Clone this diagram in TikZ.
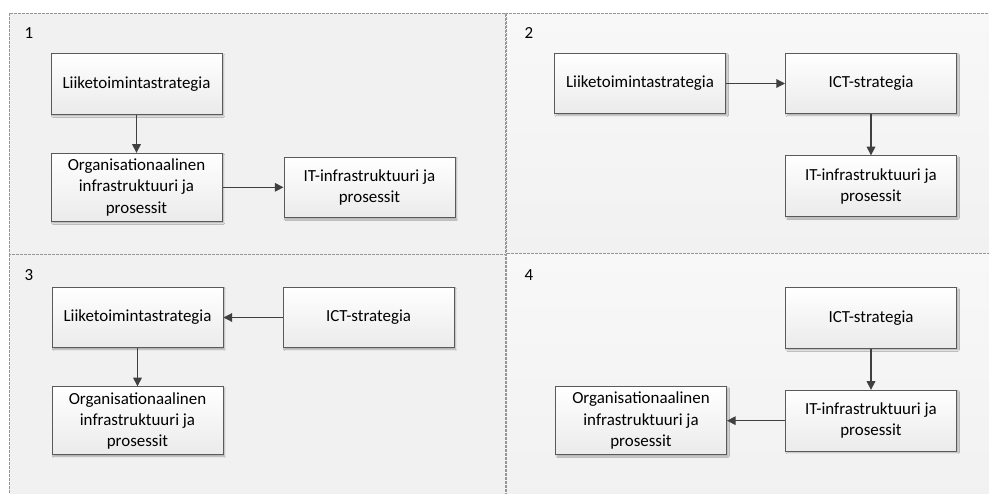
\documentclass[tikz,border=0pt]{standalone}
\usepackage{fontspec}
\setmainfont{Carlito}
\usetikzlibrary{arrows.meta, positioning, shadows.blur}
\definecolor{vsLine}{RGB}{90,90,90}
\definecolor{vsArrow}{RGB}{64,64,64}
\definecolor{vsPanel}{RGB}{241,241,241}
\definecolor{vsPanelTop}{RGB}{248,248,248}
\definecolor{vsFrame}{RGB}{150,150,150}

\begin{document}
\begin{tikzpicture}[x=0.75pt,y=-0.75pt,
  P/.style={draw=vsFrame,dash pattern=on 2.2pt off 0.8pt,line width=0.7pt},
  B/.style={draw=vsLine,line width=0.75pt,top color=white,bottom color=black!8,
            minimum width=128.25pt,minimum height=45.5pt,align=center,
            inner sep=2pt,font=\fontsize{12.7}{15.9}\selectfont,
            blur shadow={shadow xshift=1.2pt,shadow yshift=-1.2pt,
                         shadow blur radius=1pt,shadow blur steps=4,
                         shadow opacity=30}},
  O/.style={B,minimum height=51pt},
  A/.style={draw=vsArrow,line width=0.9pt,-{Triangle[length=6.5pt,width=6.5pt]}},
  N/.style={font=\fontsize{12.7}{15.9}\selectfont,inner sep=0pt}]

\useasboundingbox (0,0) rectangle (989,493);

% panels
\path[P,top color=vsPanel,bottom color=vsPanel] (9,13) rectangle (505,255);
\path[P,top color=vsPanelTop,bottom color=vsPanel] (506,13) rectangle (1000,254);
\path[P,top color=vsPanel,bottom color=vsPanel] (9,254) rectangle (505,505);
\path[P,top color=vsPanelTop,bottom color=vsPanel] (506,253) rectangle (1000,505);

\node[N] (n1) at (29,33) {1};
\node[N] (n2) at (529,33) {2};
\node[N] (n3) at (29,275) {3};
\node[N] (n4) at (529,275) {4};

% panel 1
\node[B] (li1) at (136.5,84) {Liiketoimintastrategia};
\node[O,below=28.5pt of li1] (or1) {Organisationaalinen\\infrastruktuuri ja\\prosessit};
\node[B,right=45.75pt of or1] (it1) {IT-infrastruktuuri ja\\prosessit};

% panel 2
\node[B] (li2) at (640,83.5) {Liiketoimintastrategia};
\node[B,right=44.25pt of li2] (ct2) {ICT-strategia};
\node[B,below=30.75pt of ct2] (it2) {IT-infrastruktuuri ja\\prosessit};

% panel 3
\node[B] (li3) at (137.5,317.5) {Liiketoimintastrategia};
\node[B,right=44.25pt of li3] (ct3) {ICT-strategia};
\node[O,below=28.5pt of li3] (or3) {Organisationaalinen\\infrastruktuuri ja\\prosessit};

% panel 4
\node[B] (ct4) at (871,318) {ICT-strategia};
\node[B,below=30.75pt of ct4] (it4) {IT-infrastruktuuri ja\\prosessit};
\node[O,left=43.5pt of it4] (or4) {Organisationaalinen\\infrastruktuuri ja\\prosessit};

\draw[A] (li1) -- (or1);
\draw[A] (or1) -- (it1);
\draw[A] (li2) -- (ct2);
\draw[A] (ct2) -- (it2);
\draw[A] (ct3) -- (li3);
\draw[A] (li3) -- (or3);
\draw[A] (ct4) -- (it4);
\draw[A] (it4) -- (or4);
\end{tikzpicture}
\end{document}
